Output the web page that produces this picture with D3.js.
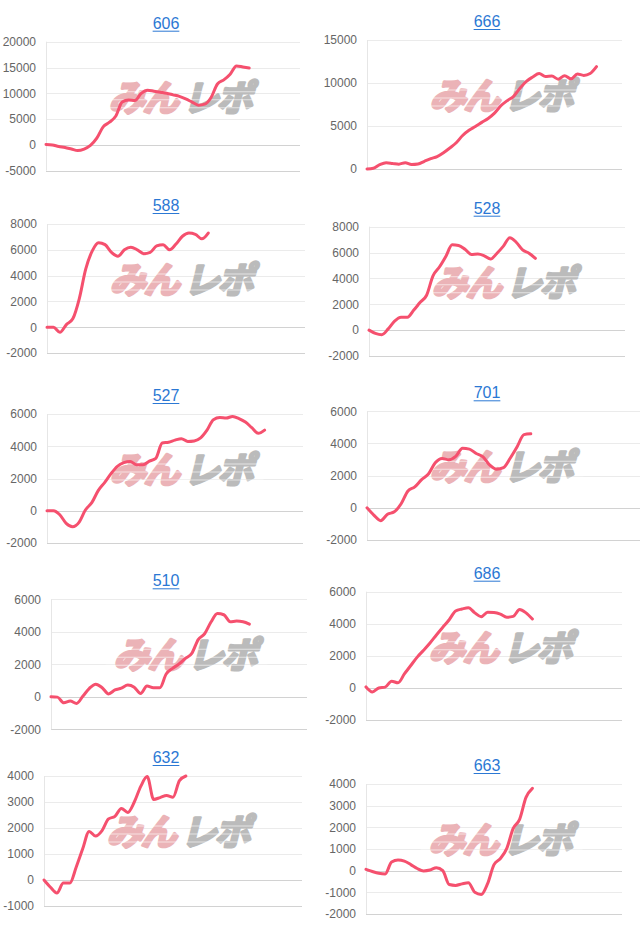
<!DOCTYPE html>
<html>
<head>
<meta charset="utf-8">
<script src="https://cdn.jsdelivr.net/npm/d3@7"></script>
<style>
  body { margin: 0; background: #fff; }
  svg { display: block; }
</style>
</head>
<body>
<svg class="charts"></svg>
<script>
// slot count on the x axis (the line stops where the data stops)
var SLOTS = 41;

// values per machine
var s606 = [100, 0, -300, -500, -800, -1100, -800, -100, 1300, 3500, 4400, 5600, 8300, 8700, 8600, 10000, 10600, 10400, 10200, 10000, 9700, 9400, 8900, 8300, 7700, 7900, 9200, 11800, 12600, 13700, 15300, 15100, 14900];
var s666 = [0, 80, 500, 730, 650, 560, 730, 520, 580, 900, 1200, 1450, 1900, 2450, 3050, 3900, 4500, 4950, 5420, 5880, 6500, 7350, 7950, 8450, 9400, 10200, 10700, 11100, 10750, 10800, 10450, 10850, 10480, 11050, 10880, 11100, 11900];
var s588 = [0, 0, -400, 200, 650, 2200, 4500, 5900, 6550, 6400, 5800, 5500, 6000, 6200, 6000, 5700, 5800, 6300, 6400, 6000, 6450, 7050, 7300, 7200, 6850, 7300];
var s528 = [0, -250, -350, 100, 700, 1000, 1000, 1550, 2150, 2700, 4200, 4880, 5700, 6600, 6550, 6250, 5850, 5880, 5750, 5500, 5950, 6500, 7150, 6800, 6200, 5950, 5550];
var s527 = [0, 0, -250, -780, -990, -720, 50, 500, 1250, 1750, 2300, 2750, 2980, 3060, 2850, 2850, 3080, 3250, 4200, 4250, 4380, 4470, 4300, 4330, 4520, 5000, 5650, 5780, 5750, 5850, 5720, 5500, 5150, 4800, 5000];
var s701 = [0, -450, -800, -400, -250, 250, 1050, 1300, 1750, 2100, 2800, 3070, 2990, 3200, 3700, 3650, 3380, 3170, 2650, 2400, 2500, 3100, 3800, 4550, 4600];
var s510 = [0, -20, -370, -260, -410, 50, 520, 780, 560, 180, 420, 530, 720, 590, 200, 660, 550, 550, 1400, 1750, 2020, 2360, 2670, 3520, 3880, 4600, 5130, 5050, 4620, 4660, 4620, 4470];
var s686 = [60, -250, 0, 50, 420, 320, 870, 1400, 1920, 2350, 2800, 3300, 3780, 4250, 4800, 4920, 5000, 4680, 4440, 4720, 4700, 4600, 4410, 4460, 4890, 4680, 4300];
var s632 = [0, -280, -500, -120, -120, 500, 1200, 1870, 1690, 1900, 2350, 2450, 2750, 2600, 3000, 3600, 3980, 3100, 3170, 3250, 3180, 3820, 4000];
var s663 = [60, -40, -120, -150, 400, 490, 440, 280, 100, -10, 30, 140, 0, -640, -680, -610, -560, -1000, -1100, -600, 280, 560, 1030, 1950, 2370, 3380, 3800];

// tick labels per chart
var t606 = [-5000, 0, 5000, 10000, 15000, 20000];
var t666 = [0, 5000, 10000, 15000];
var t588 = [-2000, 0, 2000, 4000, 6000, 8000];
var t528 = [-2000, 0, 2000, 4000, 6000, 8000];
var t527 = [-2000, 0, 2000, 4000, 6000];
var t701 = [-2000, 0, 2000, 4000, 6000];
var t510 = [-2000, 0, 2000, 4000, 6000];
var t686 = [-2000, 0, 2000, 4000, 6000];
var t632 = [-1000, 0, 1000, 2000, 3000, 4000];
var t663 = [-2000, -1000, 0, 1000, 2000, 3000, 4000];

var titles = ["606", "666", "588", "528", "527", "701", "510", "686", "632", "663"];

var svgWidth = 640, svgHeight = 931;

var svg = d3.select(".charts")
  .attr("width", svgWidth)
  .attr("height", svgHeight);

// plot boxes: [left, right, top, bottom]
var boxes = [
  [46, 300, 41.7, 170.7], [367, 622, 40, 169],
  [47, 305, 224, 353], [369, 625, 226.7, 356],
  [47, 303, 414, 543], [367, 640, 411.3, 540],
  [51, 307, 599.3, 729.3], [366, 622, 591.7, 720],
  [44, 302, 776, 906], [366, 622, 784, 914]
];
var allSeries = [s606, s666, s588, s528, s527, s701, s510, s686, s632, s663];
var allTicks = [t606, t666, t588, t528, t527, t701, t510, t686, t632, t663];

titles.forEach(function (title, k) {
  var b = boxes[k], data = allSeries[k], ticks = allTicks[k];
  var colLeft = k % 2 === 0 ? 0 : 320;

  var xScale = d3.scaleLinear()
    .domain([0, SLOTS - 1])
    .range([b[0], b[1]]);

  var yScale = d3.scaleLinear()
    .domain([d3.min(ticks), d3.max(ticks)])
    .range([b[3], b[2]]);

  var g = svg.append("g");

  // grid lines
  g.selectAll("line.grid")
    .data(ticks)
    .enter()
    .append("line")
    .attr("x1", b[0])
    .attr("x2", b[1])
    .attr("y1", function (d) { return Math.round(yScale(d)) + 0.5; })
    .attr("y2", function (d) { return Math.round(yScale(d)) + 0.5; })
    .attr("stroke", function (d) {
      return (d === 0 || d === d3.min(ticks)) ? "#d2d2d2" : "#ebebeb";
    });

  // y axis line
  g.append("line")
    .attr("x1", Math.round(b[0]) + 0.5)
    .attr("x2", Math.round(b[0]) + 0.5)
    .attr("y1", b[2])
    .attr("y2", b[3])
    .attr("stroke", "#e6e6e6");

  // tick labels
  g.selectAll("text.tick")
    .data(ticks)
    .enter()
    .append("text")
    .text(function (d) { return d; })
    .attr("x", b[0] - 10)
    .attr("y", function (d) { return yScale(d) + 4.3; })
    .attr("text-anchor", "end")
    .attr("font-family", "Liberation Sans, Arial, sans-serif")
    .attr("font-size", 12)
    .attr("fill", "#666");

  // watermark
  var wx = b[0] + 137, wy = b[2] + 56;
  var wm = g.append("g")
    .attr("transform", "translate(" + wx + "," + wy + ") skewX(-14)");
  wm.append("text")
    .attr("x", -3)
    .attr("y", 13)
    .attr("text-anchor", "end")
    .attr("font-family", "Noto Sans CJK JP")
    .attr("font-weight", 700)
    .attr("font-size", 36)
    .attr("letter-spacing", -2)
    .attr("fill", "#ebb3b7")
    .attr("stroke", "#ebb3b7")
    .attr("stroke-width", 3)
    .attr("stroke-linejoin", "round")
    .text("みん");
  wm.append("text")
    .attr("x", 3)
    .attr("y", 13)
    .attr("text-anchor", "start")
    .attr("font-family", "Noto Sans CJK JP")
    .attr("font-weight", 700)
    .attr("font-size", 36)
    .attr("letter-spacing", -2)
    .attr("fill", "#bbbbbb")
    .attr("stroke", "#bbbbbb")
    .attr("stroke-width", 3)
    .attr("stroke-linejoin", "round")
    .text("レポ");
  // speed stripes through the logo
  [-6, 2, 10].forEach(function (sy) {
    wm.append("line")
      .attr("x1", -80).attr("x2", 82)
      .attr("y1", sy).attr("y2", sy)
      .attr("stroke", "#fff")
      .attr("stroke-opacity", 0.6)
      .attr("stroke-width", 1);
  });

  // the line
  var line = d3.line()
    .x(function (d, i) { return xScale(i); })
    .y(function (d) { return yScale(d); })
    .curve(d3.curveMonotoneX);

  g.append("path")
    .datum(data)
    .attr("d", line)
    .attr("fill", "none")
    .attr("stroke", "#f5506e")
    .attr("stroke-width", 3)
    .attr("stroke-linejoin", "round")
    .attr("stroke-linecap", "round");

  // title (link style)
  var tx = colLeft + (k % 2 === 0 ? 166 : 167);
  var ty = b[2] - 13;
  var t = g.append("text")
    .text(title)
    .attr("x", tx)
    .attr("y", ty)
    .attr("text-anchor", "middle")
    .attr("font-family", "Liberation Sans, Arial, sans-serif")
    .attr("font-size", 16)
    .attr("fill", "#2b78d4");
  var w = t.node().getComputedTextLength();
  g.append("line")
    .attr("x1", tx - w / 2)
    .attr("x2", tx + w / 2)
    .attr("y1", ty + 2.5)
    .attr("y2", ty + 2.5)
    .attr("stroke", "#2b78d4")
    .attr("stroke-width", 1);
});
</script>
</body>
</html>
